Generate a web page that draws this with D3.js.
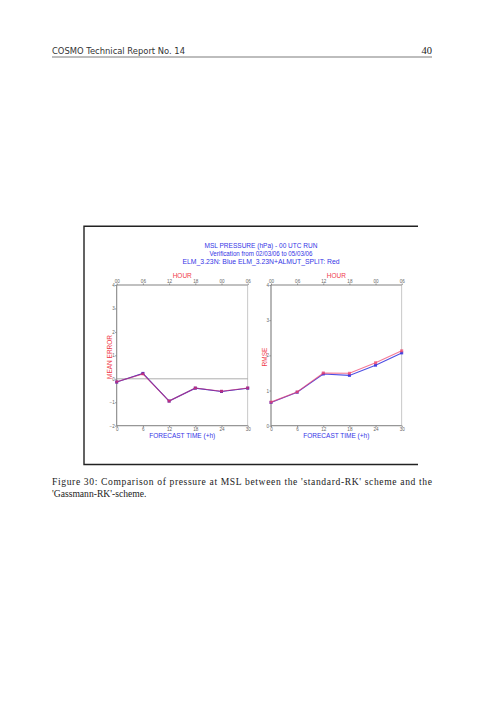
<!DOCTYPE html>
<html><head><meta charset="utf-8">
<script src="https://cdn.jsdelivr.net/npm/d3@7"></script>
<style>body{margin:0;background:#fff}svg{display:block}</style>
</head><body>
<script>
const hours = [0, 6, 12, 18, 24, 30];
const hourLabels = ["00", "06", "12", "18", "00", "06"];
const meBlue = [-0.14, 0.23, -0.95, -0.40, -0.54, -0.40];
const meRed  = [-0.13, 0.21, -0.95, -0.39, -0.53, -0.39];
const rmseBlue = [0.66, 0.95, 1.47, 1.43, 1.72, 2.07];
const rmseRed  = [0.67, 0.96, 1.50, 1.49, 1.79, 2.13];
const titleLines = ["MSL PRESSURE (hPa) - 00 UTC RUN", "Verification from 02/03/06 to 05/03/06", "ELM_3.23N: Blue ELM_3.23N+ALMUT_SPLIT: Red"];

const W = 504, H = 712;
const svg = d3.select("body").append("svg").attr("width", W).attr("height", H);
svg.append("rect").attr("width", W).attr("height", H).attr("fill", "#fff");

// page header
svg.append("text").attr("x", 52).attr("y", 54).attr("font-family", "DejaVu Sans").attr("font-size", 8).attr("fill", "#333")
  .attr("textLength", 133).attr("lengthAdjust", "spacingAndGlyphs").text("COSMO Technical Report No. 14");
svg.append("text").attr("x", 432).attr("y", 54).attr("text-anchor", "end").attr("font-family", "Liberation Serif").attr("font-size", 10.5).attr("fill", "#222").text("40");
svg.append("line").attr("x1", 52).attr("x2", 432).attr("y1", 57).attr("y2", 57).attr("stroke", "#444").attr("stroke-width", 0.7);

// frame (no right edge)
const frame = d3.path();
frame.moveTo(418, 226.3); frame.lineTo(84, 226.3); frame.lineTo(84, 464.5); frame.lineTo(418, 464.5);
svg.append("path").attr("d", frame.toString()).attr("fill", "none").attr("stroke", "#222").attr("stroke-width", 1.4);

// title
const blue = "#3434e6", red = "#f03a4a";
const titleWidths = [113, 103, 157];
titleLines.forEach((t, i) => {
  svg.append("text").attr("x", 261).attr("y", 247.5 + i * 8.2).attr("text-anchor", "middle")
    .attr("font-family", "Liberation Sans").attr("font-size", 6.6).attr("fill", blue)
    .attr("textLength", titleWidths[i]).attr("lengthAdjust", "spacingAndGlyphs").text(t);
});

function panel(x0, x1, yDom, series, ylab, yTicks) {
  const x = d3.scaleLinear().domain([0, 30]).range([x0, x1]);
  const y = d3.scaleLinear().domain(yDom).range([425.7, 285]);
  const g = svg.append("g");
  const gray = "#8a8a8a";
  g.append("rect").attr("x", x0).attr("y", 285).attr("width", x1 - x0).attr("height", 140.7)
    .attr("fill", "none").attr("stroke", "#bbb").attr("stroke-width", 0.8);
  g.append("line").attr("x1", x0).attr("x2", x0).attr("y1", 285).attr("y2", 425.7).attr("stroke", gray).attr("stroke-width", 1);
  g.append("line").attr("x1", x0).attr("x2", x1).attr("y1", 425.7).attr("y2", 425.7).attr("stroke", gray).attr("stroke-width", 1);
  g.append("line").attr("x1", x0).attr("x2", x1).attr("y1", 285).attr("y2", 285).attr("stroke", gray).attr("stroke-width", 0.8);

  const styleAxis = a => {
    a.select(".domain").remove();
    a.selectAll("line").attr("stroke", gray);
    a.selectAll("text").attr("font-family", "Liberation Sans").attr("font-size", 4.6).attr("fill", "#666");
  };
  g.append("g").attr("transform", `translate(${x0},0)`)
    .call(d3.axisLeft(y).tickValues(yTicks).tickSize(1.5).tickPadding(0.5).tickFormat(d3.format("d"))).call(styleAxis);
  g.append("g").attr("transform", "translate(0,425.7)")
    .call(d3.axisBottom(x).tickValues(hours).tickSize(1.5).tickPadding(1).tickFormat(d3.format("d"))).call(styleAxis);
  g.append("g").attr("transform", "translate(0,285)")
    .call(d3.axisTop(x).tickValues(hours).tickSize(1.5).tickPadding(1).tickFormat((d, i) => hourLabels[i])).call(styleAxis);

  if (yDom[0] < 0) {
    g.append("line").attr("x1", x0).attr("x2", x1).attr("y1", y(0)).attr("y2", y(0)).attr("stroke", "#999").attr("stroke-width", 0.8);
  }

  g.append("text").attr("x", (x0 + x1) / 2).attr("y", 277.5).attr("text-anchor", "middle")
    .attr("font-family", "Liberation Sans").attr("font-size", 6.5).attr("fill", red).text("HOUR");
  g.append("text").attr("x", (x0 + x1) / 2).attr("y", 437.5).attr("text-anchor", "middle")
    .attr("font-family", "Liberation Sans").attr("font-size", 6.5).attr("fill", blue).text("FORECAST TIME (+h)");
  g.append("text").attr("transform", `translate(${x0 - 4.5},357) rotate(-90)`).attr("text-anchor", "middle")
    .attr("font-family", "Liberation Sans").attr("font-size", 6.5).attr("fill", red).text(ylab);

  const line = d3.line().x((d, i) => x(hours[i])).y(d => y(d));
  series.forEach(s => {
    g.append("path").datum(s.v).attr("d", line).attr("fill", "none").attr("stroke", s.c)
      .attr("stroke-width", 1.1).attr("stroke-opacity", s.o);
    g.selectAll(null).data(s.v).enter().append("rect")
      .attr("x", (d, i) => x(hours[i]) - 1.5).attr("y", d => y(d) - 1.5).attr("width", 3).attr("height", 3)
      .attr("fill", s.c).attr("fill-opacity", s.o);
  });
}

panel(116.7, 247.7, [-2, 4], [{v: meBlue, c: "#3030d0", o: 1}, {v: meRed, c: "#e0306a", o: 0.65}], "MEAN ERROR", [-2, -1, 0, 1, 2, 3, 4]);
panel(271, 401.7, [0, 4], [{v: rmseBlue, c: "#3a3ae0", o: 0.9}, {v: rmseRed, c: "#f0406a", o: 0.7}], "RMSE", [0, 1, 2, 3, 4]);

// caption
const cap = svg.append("g").attr("font-family", "Liberation Serif").attr("font-size", 9.6).attr("fill", "#222");
cap.append("text").attr("x", 52).attr("y", 485).attr("textLength", 380).attr("lengthAdjust", "spacing")
  .text("Figure 30:  Comparison of pressure at MSL between the 'standard-RK' scheme and the");
cap.append("text").attr("x", 52).attr("y", 497).text("'Gassmann-RK'-scheme.");
</script>
</body></html>
